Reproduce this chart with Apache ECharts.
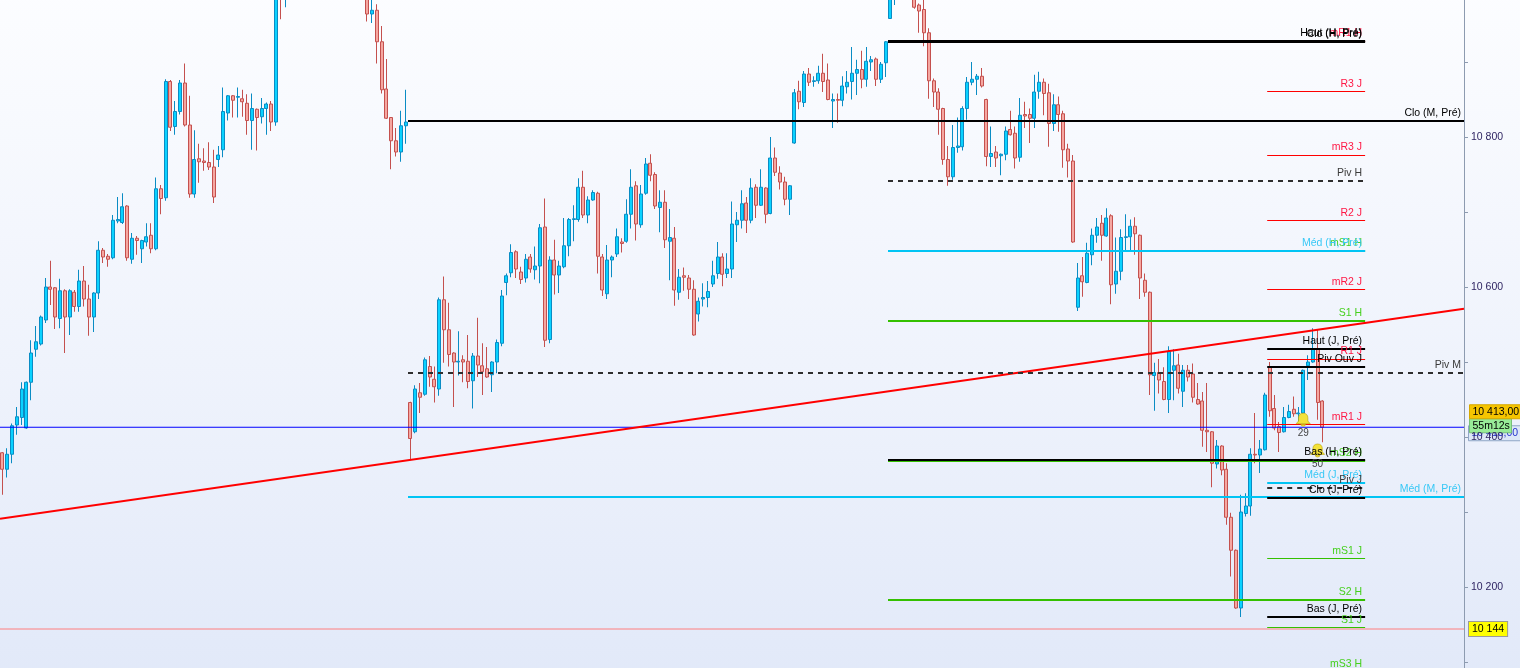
<!DOCTYPE html>
<html>
<head>
<meta charset="utf-8">
<script src="https://cdn.jsdelivr.net/npm/echarts@6/dist/echarts.min.js"></script>
<style>
html, body { margin: 0; padding: 0; overflow: hidden; width: 1520px; height: 668px; position: relative; }
#main { position: absolute; left: 0; top: -13px; width: 1520px; height: 750px; }
</style>
</head>
<body>
<div id="main"></div>
<script>
// bars: [open, close, low, high]
var lastMonthBars = [
  [10379,10357,10323,10380],[10357,10377,10346,10385],[10377,10415,10365,10418],[10416,10427,10403,10440],
  [10426,10464,10416,10473],[10412,10473,10411,10474],[10473,10512,10449,10529],[10517,10527,10507,10548],
  [10524,10560,10522,10562],[10556,10600,10552,10612],[10600,10597,10576,10635],[10599,10560,10544,10600],
  [10558,10595,10545,10611],[10595,10560,10512,10597],[10560,10595,10536,10597],[10593,10574,10567,10596],
  [10574,10608,10567,10623],[10608,10584,10574,10628],[10584,10560,10535,10603],[10560,10592,10540,10593],
  [10592,10649,10584,10661],[10649,10640,10632,10652],[10641,10637,10627,10644],[10639,10689,10637,10696],
  [10688,10690,10685,10720],[10686,10707,10684,10725],[10708,10639,10635,10709],[10637,10665,10631,10672],
  [10665,10662,10643,10668],[10651,10662,10632,10663],[10660,10667,10654,10685],[10669,10651,10645,10685],
  [10651,10731,10649,10746],[10731,10718,10697,10736],[10719,10874,10715,10877],[10874,10813,10808,10876],
  [10814,10834,10803,10848],[10834,10872,10830,10876],[10872,10816,10814,10898],[10816,10724,10719,10855],
  [10724,10770,10719,10809],[10771,10767,10739,10791],[10768,10766,10755,10785],[10766,10760,10756,10793],
  [10760,10720,10712,10783],[10770,10776,10760,10788],[10783,10834,10773,10866],[10832,10855,10822,10856],
  [10855,10849,10826,10856],[10853,10854,10826,10866],[10851,10847,10827,10863],[10845,10822,10803,10857],
  [10822,10838,10783,10858],[10837,10826,10782,10838],[10827,10838,10818,10852],[10838,10844,10803,10846],
  [10844,10820,10808,10848],[10820,10995,10815,11010],[11010,10990,10957,11020],[10990,11010,10973,11025],
  [11005,11025,10995,11035],[11025,11018,11005,11040],[11018,11040,11010,11050],[11040,11032,11020,11048],
  [11032,11050,11025,11060],[11050,11045,11030,11062],[11045,11030,11020,11055],[11030,11042,11022,11050],
  [11042,11060,11035,11070],[11060,11052,11040,11068],[11052,11035,11025,11058],[11035,11028,11010,11040],
  [11028,11040,11018,11045],[11040,11020,11008,11046],[11020,11010,10998,11028],[11010,10998,10992,11018],
  [10995,10964,10954,11005],[10964,10969,10952,10995],[10969,10927,10898,10977],[10927,10863,10858,10948],
  [10864,10825,10824,10904],[10826,10795,10757,10826],[10795,10780,10774,10812],[10780,10815,10767,10835],
  [10815,10820,10791,10863]
];
var prevWeekBars = [
  [10446,10398,10369,10447],[10407,10464,10405,10469],[10459,10453,10432,10472],[10457,10503,10455,10506],
  [10494,10480,10467,10508],[10477,10467,10446,10494],[10464,10583,10455,10586],[10583,10543,10499,10614],
  [10543,10510,10494,10579],[10512,10500,10440,10513],[10500,10501,10482,10541],[10503,10500,10473,10509],
  [10501,10474,10465,10536],[10475,10508,10438,10512],[10508,10496,10480,10559],[10495,10487,10456,10525],
  [10491,10480,10479,10520],[10483,10500,10460,10501],[10500,10526,10485,10530],[10525,10588,10521,10596],
  [10606,10615,10589,10618],[10619,10646,10613,10657],[10647,10624,10612,10649],[10620,10610,10604,10627],
  [10612,10637,10606,10644],[10640,10624,10619,10644],[10623,10628,10610,10654],[10628,10679,10605,10684],
  [10680,10529,10520,10718],[10530,10636,10525,10641],[10636,10616,10590,10663],[10616,10628,10592,10635],
  [10627,10655,10625,10692],[10655,10690,10641,10692],[10690,10691,10661,10709],[10690,10733,10687,10745],
  [10733,10696,10692,10755],[10696,10716,10685,10721],[10716,10726,10715,10729],[10725,10641,10618,10727],
  [10640,10596,10588,10644],[10591,10636,10584,10656],[10636,10640,10613,10642],[10644,10667,10640,10678],
  [10660,10658,10646,10665],[10661,10697,10659,10717],[10697,10733,10678,10757],[10735,10684,10662,10741],
  [10683,10724,10679,10736],[10725,10764,10723,10772],[10765,10749,10741,10777],[10750,10708,10704,10753],
  [10706,10713,10673,10729],[10713,10663,10652,10729],[10661,10666,10609,10704],[10665,10596,10575,10680],
  [10593,10613,10583,10624],[10615,10613,10595,10626],[10612,10597,10584,10616],[10597,10536,10535,10609],
  [10564,10581,10554,10586],[10584,10586,10574,10605],[10586,10594,10573,10608],[10604,10615,10600,10635],
  [10618,10640,10611,10660],[10640,10617,10601,10645],[10618,10624,10612,10645],[10624,10684,10612,10714],
  [10683,10689,10660,10700],[10689,10711,10678,10729],[10712,10689,10672,10720],[10689,10732,10685,10745],
  [10733,10709,10692,10737],[10709,10733,10708,10757],[10732,10697,10685,10733],[10698,10772,10697,10800],
  [10772,10753,10748,10786],[10752,10740,10730,10761],[10740,10717,10709,10747],[10717,10735,10696,10736],
  [10792,10859,10791,10864],[10861,10847,10837,10875],[10846,10884,10840,10888],[10884,10873,10868,10892],
  [10874,10875,10867,10881],[10875,10885,10871,10895],[10885,10874,10860,10911],[10876,10850,10849,10898],
  [10848,10850,10812,10858],[10850,10849,10819,10858],[10849,10868,10841,10881],[10867,10873,10858,10888],
  [10874,10885,10850,10920],[10885,10890,10856,10903],[10890,10877,10865,10915],[10877,10901,10867,10920],
  [10900,10903,10888,10908],[10904,10877,10868,10906],[10877,10897,10872,10900],[10899,10927,10880,10928]
];
var thisWeekBars = [
  [10958,10995,10958,11010],[10995,11010,10976,11020],[11010,11030,11000,11040],[11030,11020,11005,11045],
  [11020,11000,10995,11030],[10995,10973,10971,11005],[10976,10968,10939,10978],[10970,10939,10921,10990],
  [10939,10875,10851,10945],[10875,10860,10840,10878],[10860,10837,10803,10865],[10838,10770,10763,10839],
  [10770,10747,10735,10788],[10747,10786,10743,10816],[10786,10788,10779,10826],[10787,10838,10782,10841],
  [10838,10873,10823,10880],[10873,10877,10869,10900],[10877,10881,10856,10884],[10881,10868,10866,10892],
  [10850,10774,10761,10851],[10774,10778,10760,10814],[10780,10772,10760,10788],[10775,10777,10749,10778],
  [10777,10808,10769,10814],[10810,10803,10802,10835],[10805,10772,10758,10814],[10773,10829,10767,10852],
  [10830,10828,10812,10847],[10830,10825,10792,10838],[10825,10860,10812,10883],[10861,10873,10851,10887],
  [10873,10858,10829,10878],[10859,10818,10787,10871],[10818,10843,10808,10857],[10843,10830,10807,10854],
  [10831,10783,10759,10835],[10784,10768,10746,10791],[10768,10660,10659,10776],[10573,10612,10568,10632],
  [10615,10607,10587,10640],[10606,10645,10605,10659],[10643,10669,10629,10678],[10669,10680,10659,10692],
  [10685,10669,10635,10696],[10668,10692,10667,10705],[10695,10603,10577,10697],[10604,10621,10591,10666],
  [10621,10666,10609,10677],[10666,10667,10647,10697],[10667,10681,10647,10690],[10681,10671,10643,10693],
  [10669,10612,10584,10670],[10609,10593,10587,10618],[10593,10483,10456,10594],[10482,10486,10435,10499],
  [10486,10476,10458,10504],[10474,10450,10449,10493],[10450,10514,10432,10521],[10489,10495,10449,10517],
  [10496,10465,10458,10511],[10461,10489,10440,10496],[10489,10480,10474,10496],[10484,10453,10446,10498],
  [10450,10444,10443,10472],[10448,10409,10387,10460],[10409,10407,10380,10472],[10407,10365,10333,10408],
  [10364,10388,10358,10396],[10388,10356,10349,10389],[10357,10293,10283,10365],[10293,10249,10214,10299],
  [10249,10172,10171,10250],[10172,10300,10160,10323],[10298,10308,10294,10325],[10308,10377,10295,10385],
  [10377,10376,10365,10432],[10376,10384,10352,10396],[10383,10456,10382,10459]
];
var todayBars = [
  [10493,10435,10427,10500],[10438,10412,10409,10456],[10414,10406,10380,10420],[10407,10426,10406,10440],
  [10426,10434,10425,10443],[10437,10431,10427,10454],[10431,10432,10418,10440],[10432,10489,10431,10490],
  [10495,10500,10476,10509],[10500,10518,10499,10545],[10518,10446,10423,10544],[10448,10413,10393,10449]
];

// pivot levels (m-levels first so the main level line is drawn on top)
var monthNames = ['Clo (M, Pré)', 'Piv M', 'Méd (M, Pré)'];
var monthValues = [10822, 10486, 10320];
var weekNames = ['mR1 H', 'mS1 H', 'mS2 H', 'Clo (H, Pré)', 'Haut (H, Pré)', 'Piv H', 'Méd (H, Pré)',
  'S1 H', 'Bas (H, Pré)', 'S2 H', 'mS3 H'];
var weekValues = [10928, 10648, 10369, 10927, 10929, 10742, 10648, 10555, 10370, 10183, 10087];
var dayNames = ['R3 J', 'mR3 J', 'R2 J', 'mR2 J', 'Haut (J, Pré)', 'R1 J', 'Piv Ouv J', 'mR1 J',
  'Méd (J, Pré)', 'Piv J', 'Clo (J, Pré)', 'mS1 J', 'Bas (J, Pré)', 'S1 J'];
var dayValues = [10861, 10776, 10689, 10597, 10518, 10504, 10494, 10417, 10339, 10333, 10319, 10238, 10160, 10146];

var trendStart = [-0.5, 10291];
var trendEnd = [304.5, 10571];
var alertLevel = 10144;
var alertCounts = ['29', '50'];
var alertIdx = [271, 274];
var alertValues = [10423, 10382];
var yTicks = { min: 10000, max: 11000, step: 100 };

var slots = 305;
var bars = lastMonthBars.concat(prevWeekBars, thisWeekBars, todayBars);
var categories = [];
for (var i = 0; i < slots; i++) categories.push(String(i));
var lastClose = bars[bars.length - 1][1];
var monthStart = lastMonthBars.length - 0.5;
var weekStart = lastMonthBars.length + prevWeekBars.length - 0.5;
var dayStart = weekStart + thisWeekBars.length;
var periodEnd = 283.9;
var slotMax = slots - 0.5;

function fmt(v) {
  return String(v).replace(/\B(?=(\d{3})+(?!\d))/g, ' ');
}

function levelKind(name) {
  if (/^(Haut|Bas|Clo)/.test(name) || name === 'Piv Ouv J') return 'black';
  if (/^Piv/.test(name)) return 'pivot';
  if (/^Méd/.test(name)) return 'median';
  if (/^m?R/.test(name)) return 'resist';
  return 'support';
}
var kindColor = { black: '#000000', pivot: '#2e2e2e', median: '#00c4f4', resist: '#ff0000', support: '#34c000' };
var kindText = { black: '#000000', pivot: '#3a3a3a', median: '#38c8f6', resist: '#ff1744', support: '#46d01e' };

function segments(names, values, from, to, thin) {
  return names.map(function (name, i) {
    var k = levelKind(name);
    var w = (k === 'resist' || (k === 'support' && thin)) ? 1 : 2;
    return [{
      name: name,
      coord: [from, values[i]],
      lineStyle: { color: kindColor[k], width: w, type: k === 'pivot' ? [5, 5] : 'solid' },
      label: { color: kindText[k] }
    }, { coord: [to, values[i]] }];
  });
}

var lineData = [].concat(
  [[{ coord: trendStart, lineStyle: { color: '#ff0000', width: 2, type: 'solid' }, label: { show: false } }, { coord: trendEnd }]],
  segments(monthNames, monthValues, monthStart, slotMax, false),
  segments(weekNames, weekValues, weekStart, periodEnd, false),
  segments(dayNames, dayValues, dayStart, periodEnd, true)
);

// full-width price line as a plain line series
function priceLine(value, color, endLabel) {
  return {
    type: 'line', xAxisIndex: 1, z: 4, silent: true,
    showSymbol: false, symbol: 'none',
    data: [[-0.5, value], [slotMax, value]],
    lineStyle: { color: color, width: 1, type: 'solid' },
    itemStyle: { color: color },
    emphasis: { disabled: true },
    endLabel: endLabel || { show: false }
  };
}

var chart = echarts.init(document.getElementById('main'));
var option = {
  animation: false,
  backgroundColor: {
    type: 'linear', x: 0, y: 0, x2: 0, y2: 1,
    colorStops: [{ offset: 0, color: '#fcfdff' }, { offset: 0.5, color: '#eff3fc' }, { offset: 1, color: '#dfe7f8' }]
  },
  textStyle: { fontFamily: 'Liberation Sans' },
  grid: { left: 0, right: 56, top: 0, bottom: 0, outerBoundsMode: 'none', containLabel: false },
  xAxis: [
    { type: 'category', data: categories, boundaryGap: true, show: false },
    { type: 'value', min: -0.5, max: slotMax, show: false }
  ],
  yAxis: {
    type: 'value', position: 'right', min: yTicks.min, max: yTicks.max, interval: yTicks.step,
    splitLine: { show: false },
    axisLine: { show: true, onZero: false, lineStyle: { color: '#8d9bb0' } },
    axisTick: { show: true, length: 4, lineStyle: { color: '#8d9bb0' } },
    axisLabel: {
      margin: 7, color: '#2a1f5e', fontSize: 10.5,
      formatter: function (v) { return v % 200 === 0 ? fmt(v) : ''; }
    }
  },
  series: [
    {
      type: 'candlestick',
      xAxisIndex: 0,
      barWidth: '70%',
      data: bars,
      itemStyle: {
        color: '#0ad2ff', borderColor: '#0a8cc4',
        color0: '#f5a7a1', borderColor0: '#c4504e',
        borderWidth: 1
      },
      markPoint: {
        silent: true,
        symbol: 'path://M10 0C6 0 4 3 4 7v5L1 16h18l-3-4V7c0-4-2-7-6-7zM7 17a3 3 0 0 0 6 0z',
        symbolSize: [14, 13],
        itemStyle: { color: '#f3e23a', borderColor: '#b8a000', borderWidth: 0.6 },
        label: { show: true, position: 'bottom', distance: 2, formatter: '{b}', color: '#444', fontSize: 10 },
        data: alertIdx.map(function (x, i) {
          return { name: alertCounts[i], coord: [x, alertValues[i]] };
        })
      }
    },
    priceLine(lastClose, '#0000ff'),
    priceLine(alertLevel, '#ff7f7f', {
      show: true, formatter: fmt(alertLevel), color: '#000', backgroundColor: '#ffff00',
      borderColor: '#9a9a9a', borderWidth: 1, padding: [2, 3, 1, 3], distance: 5, fontSize: 10.5
    }),
    {
      type: 'line',
      xAxisIndex: 1,
      data: [],
      z: 5,
      markLine: {
        silent: true,
        symbol: ['none', 'none'],
        emphasis: { disabled: true },
        lineStyle: { type: 'solid' },
        label: {
          show: true, position: 'insideEndTop', formatter: '{b}', distance: [3, 2],
          fontSize: 10.5, fontFamily: 'Liberation Sans'
        },
        data: lineData
      }
    }
  ]
};
chart.setOption(option);

// price tags in the axis gutter, anchored on the last close
var py = chart.convertToPixel({ yAxisIndex: 0 }, lastClose);
var px = chart.convertToPixel({ xAxisIndex: 1 }, slotMax);
var priceText = fmt(Math.floor(lastClose)) + ',' + (lastClose.toFixed(2).split('.')[1]);
function tag(x, y, w, h, fill, stroke, text, color) {
  return {
    type: 'group', z: 100, children: [
      { type: 'rect', shape: { x: x, y: y, width: w, height: h }, style: { fill: fill, stroke: stroke, lineWidth: 1 } },
      { type: 'text', x: x + 3, y: y + h / 2, style: { text: text, fill: color, font: '10.5px Liberation Sans', verticalAlign: 'middle' } }
    ]
  };
}
chart.setOption({
  graphic: [
    tag(px + 4.5, py - 1.5, 60, 15, '#dde7f7', '#8fa6c6', priceText, '#2233cc'),
    tag(px + 5.5, py - 8.5, 42, 14, '#98ec98', '#78c078', '55m12s', '#000'),
    tag(px + 5.5, py - 22.5, 58, 14, '#f6c500', '#d6a800', priceText, '#000')
  ]
});
</script>
</body>
</html>
